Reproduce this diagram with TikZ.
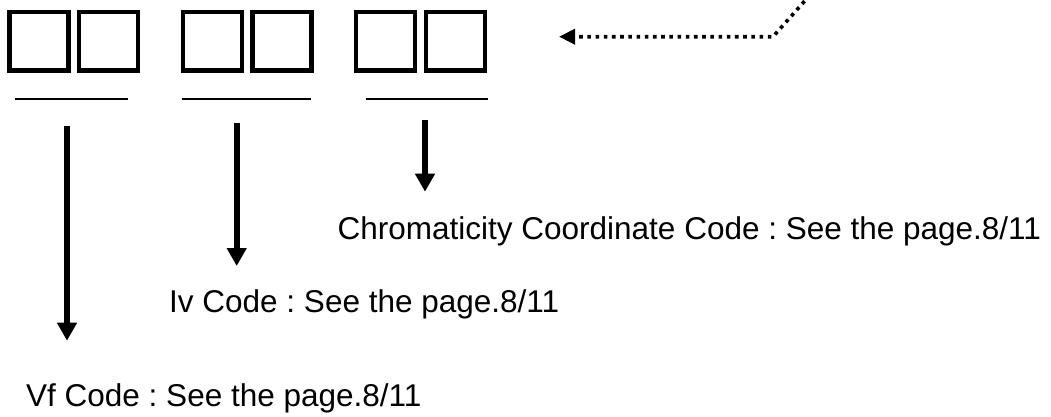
\documentclass[tikz,border=0pt]{standalone}
\usepackage{fontspec}
\setmainfont{Liberation Sans}
\usetikzlibrary{arrows.meta}
\frenchspacing
\begin{document}
\begin{tikzpicture}[x=1pt,y=-1pt,
  codebox/.style={draw,line width=4.3pt,minimum width=59pt,minimum height=58.5pt,inner sep=0pt},
  uline/.style={line width=2pt},
  downarrow/.style={line width=6pt,-{Triangle[width=19pt,length=18pt]}},
  dotarrow/.style={line width=3.6pt,dash pattern=on 3.6pt off 4.6pt,-{Triangle[width=15pt,length=16pt,sep=0pt]}},
  label/.style={inner sep=0pt,anchor=base west,font=\fontsize{31.5pt}{36pt}\selectfont}]
\useasboundingbox (0,0) rectangle (1051,416);
% boxes
\node[codebox] (b1) at (39,41.3) {};
\node[codebox] (b2) at (108.5,41.3) {};
\node[codebox] (b3) at (212.5,41.3) {};
\node[codebox] (b4) at (282,41.3) {};
\node[codebox] (b5) at (385.8,41.3) {};
\node[codebox] (b6) at (455.5,41.3) {};
% underlines
\coordinate (u1a) at (15,99); \coordinate (u1b) at (127.7,99);
\coordinate (u2a) at (181.7,99); \coordinate (u2b) at (311,99);
\coordinate (u3a) at (366,99); \coordinate (u3b) at (487.7,99);
\draw[uline] (u1a) -- (u1b);
\draw[uline] (u2a) -- (u2b);
\draw[uline] (u3a) -- (u3b);
% labels
\node[label] (vf) at (26,406.5) {Vf Code : See the page.8/11};
\node[label] (iv) at (169,312) {Iv Code : See the page.8/11};
\node[label] (cc) at (337.5,239.5) {Chromaticity Coordinate Code : See the page.8/11};
% arrows
\coordinate (a1s) at (67,126); \coordinate (a1e) at (67,340.7);
\coordinate (a2s) at (236.7,122.7); \coordinate (a2e) at (236.7,266);
\coordinate (a3s) at (425,120); \coordinate (a3e) at (425,191.7);
\draw[downarrow] (a1s) -- (a1e);
\draw[downarrow] (a2s) -- (a2e);
\draw[downarrow] (a3s) -- (a3e);
% dotted pointer
\coordinate (ds) at (810,-5);
\coordinate (dc) at (773,36.7);
\coordinate (de) at (559,36.7);
\draw[dotarrow] (ds) -- (dc) -- (de);
\end{tikzpicture}
\end{document}
